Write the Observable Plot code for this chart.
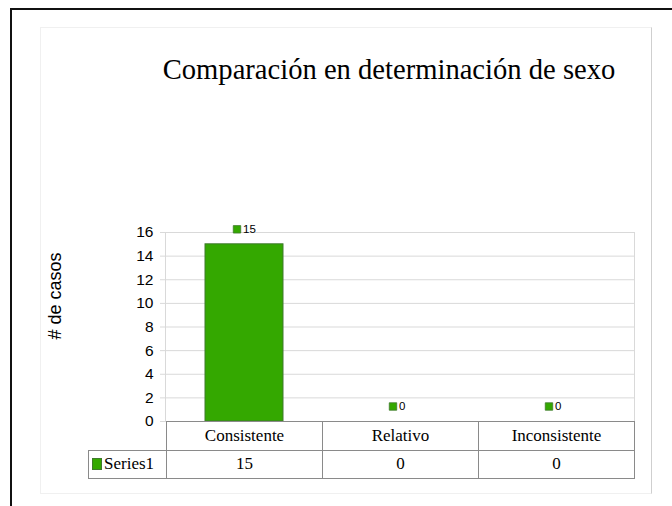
<!DOCTYPE html>
<html>
<head>
<meta charset="utf-8">
<script src="https://cdn.jsdelivr.net/npm/d3@7"></script>
<script src="https://cdn.jsdelivr.net/npm/@observablehq/plot@0.6"></script>
<style>
  html, body { margin: 0; padding: 0; background: #fff; }
  #wrap { position: relative; width: 672px; height: 506px; overflow: hidden; background: #fff; }
  .abs { position: absolute; box-sizing: border-box; }
  .cell { position: absolute; box-sizing: border-box; display: flex; align-items: center; justify-content: center;
          font-family: "Liberation Serif", serif; font-size: 17px; color: #000; }
</style>
</head>
<body>
<div id="wrap"></div>
<script>
const categories = ["Consistente", "Relativo", "Inconsistente"];
const values = [15, 0, 0];
const seriesName = "Series1";
const yTicks = [0, 2, 4, 6, 8, 10, 12, 14, 16];
const title = "Comparación en determinación de sexo";
const yLabel = "# de casos";

const green = "#34a800";
const greenStroke = "#3f7a2c";
const data = categories.map((c, i) => ({cat: c, value: values[i]}));

const wrap = document.getElementById("wrap");

// page decorations
const outer = document.createElement("div");
outer.className = "abs";
Object.assign(outer.style, {left: "10px", top: "8px", width: "700px", height: "520px",
  borderTop: "2px solid #111", borderLeft: "2px solid #111"});
wrap.appendChild(outer);
const page = document.createElement("div");
page.className = "abs";
Object.assign(page.style, {left: "40px", top: "27px", width: "612px", height: "467px",
  border: "1px solid #f0f0f0", borderRight: "1.5px solid #cfcfcf"});
wrap.appendChild(page);

const plot = Plot.plot({
  width: 672,
  height: 506,
  marginLeft: 165,
  marginRight: 38,
  marginTop: 232,
  marginBottom: 85,
  style: {background: "transparent", fontFamily: "Liberation Sans, Arial, sans-serif", overflow: "visible"},
  x: {domain: categories, padding: 0, axis: null},
  y: {domain: [0, 16], axis: null},
  marks: [
    Plot.gridY(yTicks, {stroke: "#d9d9d9", strokeOpacity: 1, insetLeft: -5}),
    Plot.frame({stroke: "#d9d9d9"}),
    Plot.axisY(yTicks, {tickSize: 0, tickPadding: 12, fontSize: 15.5, fill: "#000", label: null}),
    Plot.text([yLabel], {frameAnchor: "left", textAnchor: "middle", rotate: -90, dx: -110, dy: -31, fontSize: 18, fill: "#000"}),
    Plot.barY(data, {x: "cat", y: "value", fill: green, stroke: greenStroke, strokeWidth: 1, insetLeft: 39, insetRight: 39}),
    Plot.dot(data, {x: "cat", y: "value", symbol: "square", r: 4.2, fill: green, stroke: greenStroke, strokeWidth: 0.8, dx: -7.5, dy: -15}),
    Plot.text(data, {x: "cat", y: "value", text: d => String(d.value), textAnchor: "start", dx: -1.5, dy: -15, fontSize: 11.5, fill: "#000"}),
    Plot.text([title], {frameAnchor: "top", dx: -11, dy: -174, fontFamily: "Liberation Serif, serif", fontSize: 28.6, fill: "#000"})
  ]
});
plot.style.position = "absolute";
plot.style.left = "0px";
plot.style.top = "0px";
wrap.appendChild(plot);

// data table built from the plot's own x scale
const xs = plot.scale("x");
const bw = xs.bandwidth;
const yTop = 421, rowH = 28.5;
const lineColor = "#8a8a8a";
function cell(left, top, width, height, content, borders) {
  const d = document.createElement("div");
  d.className = "cell";
  Object.assign(d.style, {left: left + "px", top: top + "px", width: width + "px", height: height + "px"});
  Object.assign(d.style, borders);
  if (typeof content === "string") d.textContent = content; else d.appendChild(content);
  wrap.appendChild(d);
}
const b = "1px solid " + lineColor;
categories.forEach((c, i) => {
  const left = xs.apply(c);
  cell(left, yTop, bw + 1, rowH + 1, c, {border: b});
  cell(left, yTop + rowH, bw + 1, rowH + 1, String(values[i]), {border: b});
});
const leg = document.createElement("span");
leg.style.display = "flex"; leg.style.alignItems = "center";
const sw = document.createElement("span");
Object.assign(sw.style, {display: "inline-block", width: "10px", height: "12px", background: green,
  border: "1px solid " + greenStroke, marginRight: "2px", boxSizing: "border-box"});
leg.appendChild(sw);
leg.appendChild(document.createTextNode(seriesName));
const legLeft = 88;
cell(legLeft, yTop + rowH, xs.apply(categories[0]) - legLeft + 1, rowH + 1, leg, {border: b, justifyContent: "flex-start", paddingLeft: "3px"});
</script>
</body>
</html>
